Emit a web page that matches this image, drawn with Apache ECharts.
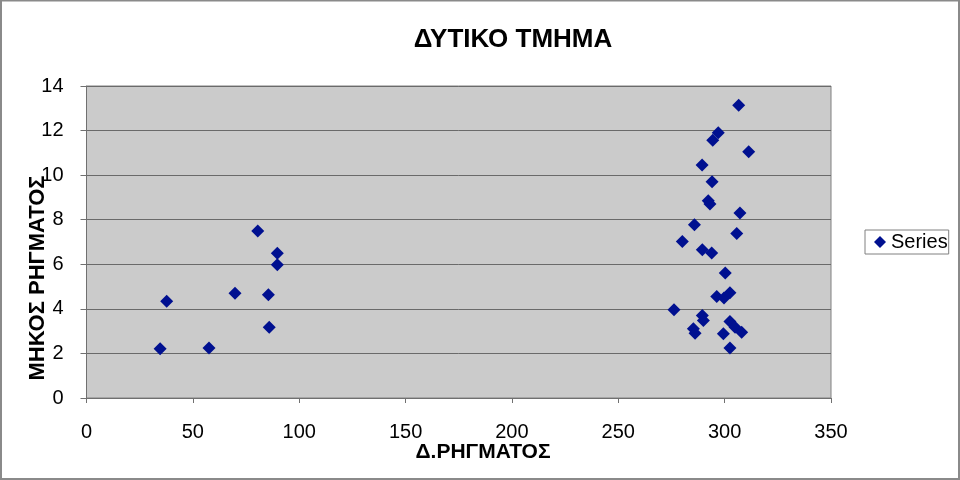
<!DOCTYPE html>
<html>
<head>
<meta charset="utf-8">
<script src="https://cdn.jsdelivr.net/npm/echarts@6/dist/echarts.min.js"></script>
<style>
html,body{margin:0;padding:0;background:#fff;}
#chart{width:960px;height:480px;}
</style>
</head>
<body>
<div id="chart"></div>
<script>
var titleText = 'ΔΥΤΙΚΟ ΤΜΗΜΑ';
var xAxisName = 'Δ.ΡΗΓΜΑΤΟΣ';
var yAxisName = 'ΜΗΚΟΣ ΡΗΓΜΑΤΟΣ';
var seriesName = 'Series';
var xValues = [34.6, 57.6, 37.7, 69.8, 80.5, 85.5, 85.9, 89.7, 89.7,
  306.6, 297.0, 294.4, 311.3, 289.4, 294.1, 292.3, 293.1, 307.2, 285.8,
  305.7, 280.1, 289.5, 293.9, 300.3, 296.3, 299.7, 302.5, 276.2, 289.5,
  290.0, 285.3, 286.1, 302.5, 304.9, 308.0, 299.4, 302.5];
var yValues = [2.21, 2.24, 4.34, 4.70, 7.49, 4.63, 3.18, 6.49, 5.98,
  13.14, 11.90, 11.57, 11.05, 10.46, 9.70, 8.85, 8.70, 8.30, 7.77,
  7.38, 7.02, 6.65, 6.51, 5.61, 4.55, 4.49, 4.72, 3.96, 3.70,
  3.48, 3.11, 2.91, 3.43, 3.18, 2.95, 2.88, 2.24];

var points = xValues.map(function (x, i) { return [x, yValues[i]]; });
var font = 'Liberation Sans, Arial, sans-serif';
var chart = echarts.init(document.getElementById('chart'));
chart.setOption({
  animation: false,
  backgroundColor: '#ffffff',
  title: {
    text: titleText,
    left: 513, top: 27, padding: 0, textAlign: 'center',
    textStyle: { fontFamily: font, fontSize: 26, fontWeight: 'bold', color: '#000' }
  },
  legend: {
    data: [seriesName],
    left: 865, top: 230,
    orient: 'vertical',
    backgroundColor: '#ffffff',
    borderColor: '#808080', borderWidth: 1,
    padding: [2, 1, 2, 9],
    itemWidth: 12, itemHeight: 12, itemGap: 0,
    icon: 'diamond',
    textStyle: { fontFamily: font, fontSize: 20, color: '#000', padding: [0, 0, 0, 0] }
  },
  grid: {
    left: 86.5, top: 86, right: 129, bottom: 82,
    show: true, backgroundColor: '#cbcbcb', borderColor: '#808080', borderWidth: 1
  },
  xAxis: {
    type: 'value', min: 0, max: 350, interval: 50,
    axisLine: { show: true, onZero: false, lineStyle: { color: '#707070', width: 1 } },
    axisTick: { show: true, length: 5, lineStyle: { color: '#707070' } },
    axisLabel: { margin: 24, fontFamily: font, fontSize: 20, color: '#000' },
    splitLine: { show: false }
  },
  yAxis: {
    type: 'value', min: 0, max: 14, interval: 2,
    axisLine: { show: true, onZero: false, lineStyle: { color: '#707070', width: 1 } },
    axisTick: { show: true, length: 6, lineStyle: { color: '#707070' } },
    axisLabel: { margin: 23, fontFamily: font, fontSize: 20, color: '#000' },
    splitLine: { show: true, lineStyle: { color: '#6a6a6a', width: 1 } }
  },
  graphic: [
    {
      type: 'text', x: 38, y: 278, rotation: Math.PI / 2,
      style: { text: yAxisName, fontFamily: font, fontSize: 22, fontWeight: 'bold', fill: '#000', align: 'center', verticalAlign: 'middle' }
    },
    {
      type: 'text', x: 483, y: 452,
      style: { text: xAxisName, fontFamily: font, fontSize: 21, fontWeight: 'bold', fill: '#000', align: 'center', verticalAlign: 'middle' }
    },
    {
      type: 'rect', shape: { x: 1, y: 0.5, width: 958, height: 478.5 },
      style: { fill: 'none', stroke: '#8a8a8a', lineWidth: 2 }, silent: true
    }
  ],
  series: [{
    name: seriesName,
    type: 'scatter',
    symbol: 'diamond',
    symbolSize: 13,
    itemStyle: { color: '#001090', opacity: 1 },
    data: points
  }]
});
</script>
</body>
</html>
